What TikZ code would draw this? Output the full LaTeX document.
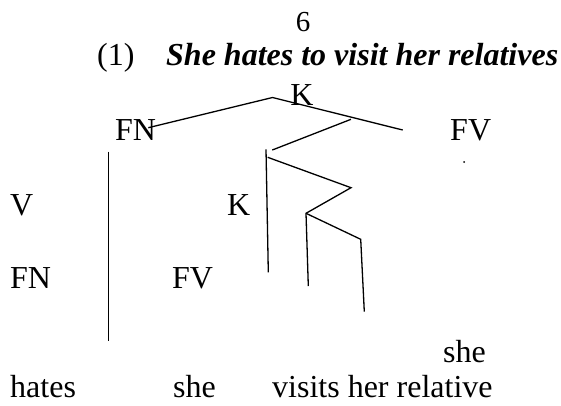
\documentclass[tikz,border=0pt]{standalone}
\usepackage{fontspec}
\setmainfont{Liberation Serif}
\begin{document}
\begin{tikzpicture}[x=1pt,y=-1pt,
  lbl/.style={inner sep=0pt,anchor=base west,font=\fontsize{32}{38}\selectfont},
  branch/.style={line width=1.3pt,line join=miter}]
\useasboundingbox (0,0) rectangle (561,405);
% texts
\node[lbl,anchor=base,font=\fontsize{29}{34}\selectfont] (pg) at (303,31) {6};
\node[lbl] (num) at (97,65) {(1)};
\node[lbl,font=\fontsize{32}{38}\selectfont\bfseries\itshape] (title) at (166,65) {She hates to visit her relatives};
\node[lbl,anchor=base] (K1) at (302,105) {K};
\node[lbl] (FN1) at (115,140) {FN};
\node[lbl] (FV1) at (450,140) {FV};
\node[lbl] (V) at (10,215) {V};
\node[lbl] (K2) at (227,215) {K};
\node[lbl] (FN2) at (10,288) {FN};
\node[lbl] (FV2) at (172,288) {FV};
\node[lbl] (she1) at (443,362) {she};
\node[lbl] (hates) at (10,397) {hates};
\node[lbl] (she2) at (173,397) {she};
\node[lbl] (visits) at (272,397) {visits her relative};
% tree points
\coordinate (a) at (148.3,127.7);
\coordinate (top) at (272.5,97.5);
\coordinate (b) at (402.7,130);
\coordinate (c) at (351,119.3);
\coordinate (d) at (272.3,150);
\coordinate (e1) at (266,149.3);
\coordinate (e2) at (268.3,272.3);
\coordinate (f1) at (267.7,157.3);
\coordinate (f2) at (351,187.7);
\coordinate (f3) at (306,213.3);
\coordinate (f4) at (308.3,286);
\coordinate (g1) at (360.7,239.3);
\coordinate (g2) at (364.3,311.7);
\coordinate (h1) at (108.3,151.7);
\coordinate (h2) at (108.3,340.7);
\coordinate (dot) at (464,162);
% branches
\draw[branch] (a) -- (top) -- (b);
\draw[branch] (c) -- (d);
\draw[branch] (e1) -- (e2);
\draw[branch] (f1) -- (f2) -- (f3) -- (f4);
\draw[branch] (f3) -- (g1) -- (g2);
\draw[branch] (h1) -- (h2);
\fill (dot) circle (1pt);
\end{tikzpicture}
\end{document}
